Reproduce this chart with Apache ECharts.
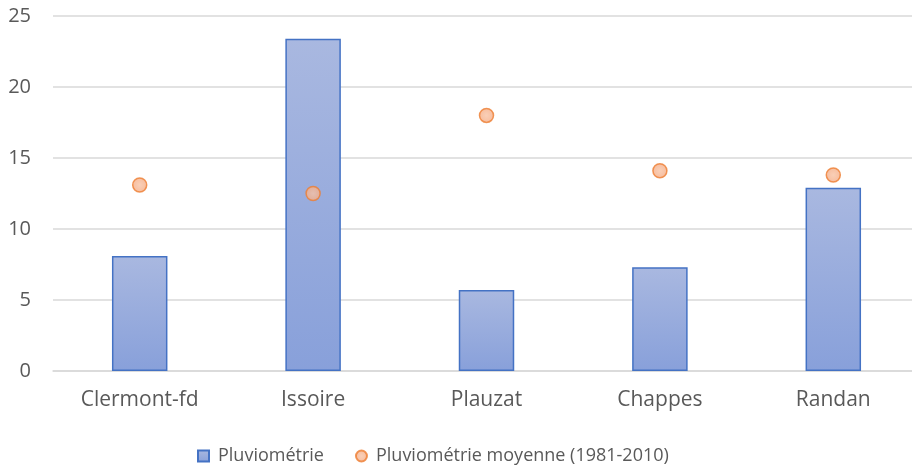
<!DOCTYPE html>
<html><head><meta charset="utf-8">
<script src="https://cdn.jsdelivr.net/npm/echarts@6/dist/echarts.min.js"></script>
<style>html,body{margin:0;padding:0;background:#fff}#c{width:912px;height:472px}</style>
</head><body><div id="c"></div>
<script>
const categories = ['Clermont-fd', 'Issoire', 'Plauzat', 'Chappes', 'Randan'];
const pluvio = [8.1, 23.4, 5.7, 7.3, 12.9];
const pluvioMoyenne = [13.1, 12.5, 18.0, 14.1, 13.8];
const yTicks = [0, 5, 10, 15, 20, 25];

const font = '"Open Sans", "Noto Sans", sans-serif';
const chart = echarts.init(document.getElementById('c'), null, {renderer: 'canvas'});
chart.setOption({
  animation: false,
  textStyle: {fontFamily: font},
  grid: {left: 53, width: 867, top: 16, bottom: 101, outerBoundsMode: 'none', containLabel: false},
  legend: {
    top: 442, left: 192, itemGap: 31, itemWidth: 11, itemHeight: 11,
    textStyle: {color: '#595959', fontSize: 18, fontFamily: font, padding: [0, 0, 0, 4]},
    data: [
      {name: 'Pluviométrie', icon: 'rect'},
      {name: 'Pluviométrie moyenne (1981-2010)', icon: 'circle'}
    ]
  },
  xAxis: {
    type: 'category', data: categories,
    axisLine: {show: true, lineStyle: {color: '#D9D9D9', width: 1.5}},
    axisTick: {show: false},
    axisLabel: {color: '#595959', fontSize: 21, margin: 19, fontFamily: font}
  },
  yAxis: {
    type: 'value', min: yTicks[0], max: yTicks[yTicks.length - 1], interval: 5,
    axisLine: {show: false}, axisTick: {show: false},
    axisLabel: {color: '#595959', fontSize: 20, margin: 22, fontFamily: font},
    splitLine: {lineStyle: {color: '#D9D9D9', width: 1.5}}
  },
  series: [
    {
      name: 'Pluviométrie', type: 'bar', data: pluvio, barWidth: '32%',
      itemStyle: {
        color: new echarts.graphic.LinearGradient(0, 0, 0, 1, [
          {offset: 0, color: '#A9B8E0'}, {offset: 1, color: '#88A0DA'}
        ]),
        borderColor: '#4472C4', borderWidth: 1.5
      }
    },
    {
      name: 'Pluviométrie moyenne (1981-2010)', type: 'scatter', data: pluvioMoyenne,
      symbol: 'circle', symbolSize: 14,
      itemStyle: {
        color: new echarts.graphic.RadialGradient(0.5, 0.5, 0.6, [
          {offset: 0, color: '#F8C3A5'}, {offset: 1, color: '#F4A77E'}
        ]),
        borderColor: '#ED7D31', borderWidth: 1.5
      }
    }
  ]
});
</script></body></html>
